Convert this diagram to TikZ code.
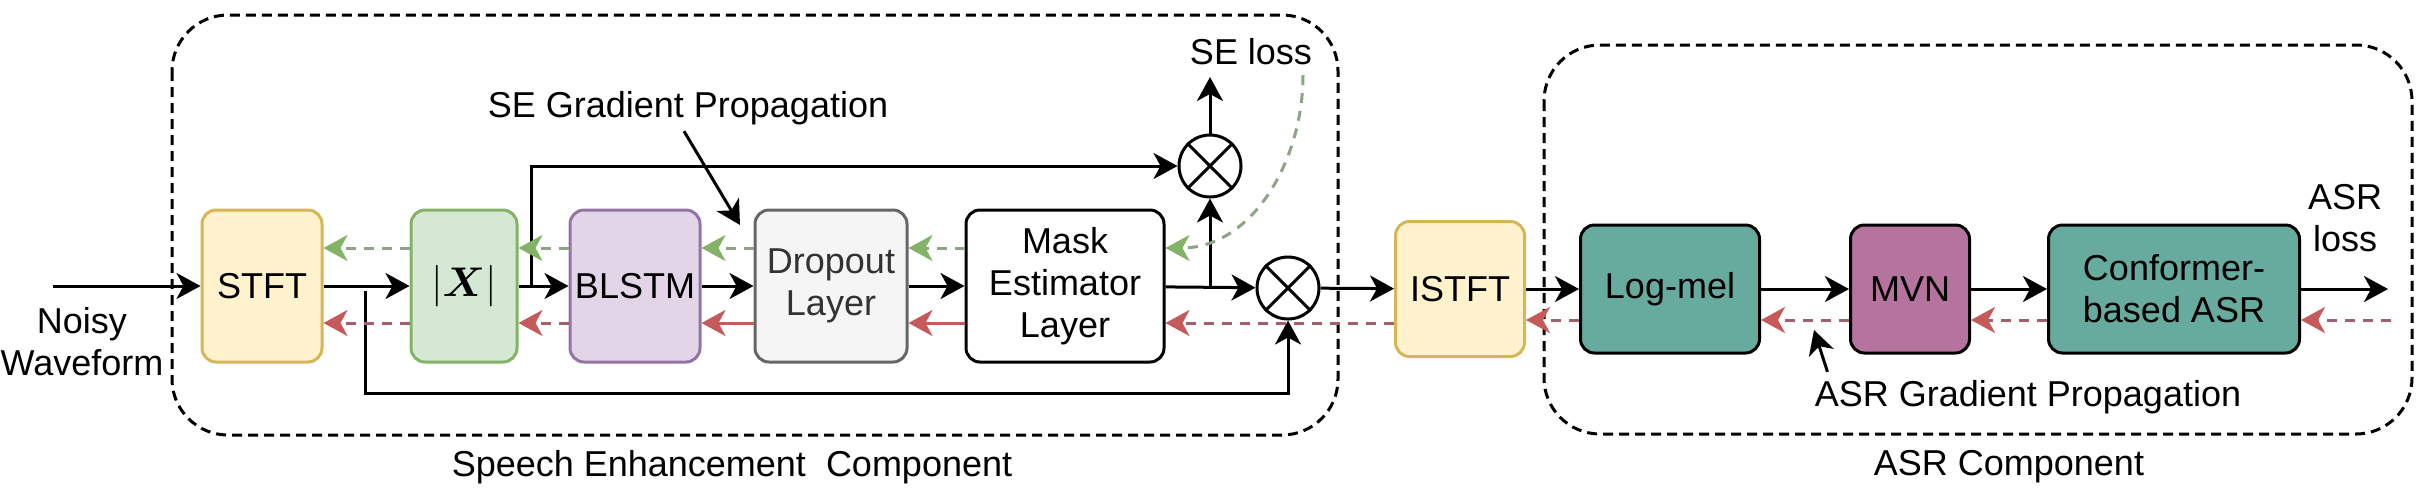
\documentclass[tikz,border=0pt]{standalone}
\usepackage{fontspec}
\setmainfont{Liberation Sans}
\usepackage{amsmath}
\usetikzlibrary{arrows.meta}
\definecolor{yfill}{HTML}{FFF2CC}\definecolor{ydraw}{HTML}{D6B656}
\definecolor{gfill}{HTML}{D5E8D4}\definecolor{gdraw}{HTML}{82B366}
\definecolor{pfill}{HTML}{E1D5E7}\definecolor{pdraw}{HTML}{9673A6}
\definecolor{sfill}{HTML}{F5F5F5}\definecolor{sdraw}{HTML}{666666}
\definecolor{teal}{HTML}{67AB9F}\definecolor{mauve}{HTML}{B5739D}
\definecolor{gline}{HTML}{8FA386}\definecolor{ghead}{HTML}{82B366}
\definecolor{rline}{HTML}{A3606C}\definecolor{rhead}{HTML}{C65A5A}

\begin{document}
\begin{tikzpicture}[x=0.5pt,y=-0.5pt,
  >={Stealth[length=12pt,width=13pt,inset=3.5pt]},
  every node/.style={font=\fontsize{18}{21}\selectfont},
  blk/.style={draw,rounded corners=7pt,line width=1.5pt,align=center,inner sep=0pt},
  ybox/.style={blk,fill=yfill,draw=ydraw},
  gbox/.style={blk,fill=gfill,draw=gdraw},
  pbox/.style={blk,fill=pfill,draw=pdraw},
  sbox/.style={blk,fill=sfill,draw=sdraw,text=black!80},
  tbox/.style={blk,fill=teal,minimum height=64pt},
  mult/.style={circle,draw,line width=1.5pt,minimum size=31pt,inner sep=0pt},
  group/.style={draw,dash pattern=on 5pt off 3pt,line width=1.5pt,rounded corners=28pt},
  flow/.style={->,line width=1.5pt},
  gback/.style={line width=1.5pt,draw=gline,dash pattern=on 5pt off 4pt,
    -{Stealth[length=12pt,width=13pt,inset=3.5pt,color=ghead]}},
  rback/.style={line width=1.5pt,draw=rline,dash pattern=on 5pt off 4pt,
    -{Stealth[length=12pt,width=13pt,inset=3.5pt,color=rhead]}},
  rsolid/.style={line width=1.5pt,draw=rhead,
    -{Stealth[length=12pt,width=13pt,inset=3.5pt,color=rhead]}}]
\useasboundingbox (0,0) rectangle (2417,500);

% component frames
\draw[group] (172,15) rectangle (1338,435);
\draw[group] (1544,45) rectangle (2412,434);
\node (secomp) at (732,467) {Speech Enhancement\ \ Component};
\node (asrcomp) at (2009,467) {ASR Component};

% blocks
\node[ybox,minimum width=60pt,minimum height=76pt] (stft) at (262,286) {STFT};
\node[gbox,minimum width=53pt,minimum height=76pt] (mag) at (464,286) {\fontsize{20}{24}\selectfont$|\boldsymbol{X}|$};
\node[pbox,minimum width=65pt,minimum height=76pt] (blstm) at (635,286) {BLSTM};
\node[sbox,minimum width=76pt,minimum height=76pt] (drop) at (831,286) {Dropout\\Layer};
\node[blk,minimum width=99pt,minimum height=76pt] (mask) at (1065,286) {Mask\\Estimator\\Layer};
\node[mult] (multup) at (1210,166) {};
\node[mult] (multlo) at (1288,288) {};
\node[ybox,minimum width=64.5pt,minimum height=67.5pt] (istft) at (1460,289) {ISTFT};
\node[tbox,minimum width=89.5pt] (logmel) at (1670,289) {Log-mel};
\node[blk,fill=mauve,minimum width=59.5pt,minimum height=64pt] (mvn) at (1910,289) {MVN};
\node[tbox,minimum width=125.5pt] (conf) at (2174,289) {Conformer-\\based ASR};
\foreach \m in {multup,multlo}{
  \draw[line width=1.5pt] (\m.north west) -- (\m.south east) (\m.north east) -- (\m.south west);
}

% labels
\node[align=center] (noisy) at (82,342) {Noisy\\Waveform};
\node (seloss) at (1251,52) {SE loss};
\node[align=center] (asrloss) at (2345,218) {ASR\\loss};
\node[inner sep=0pt] (segrad) at (688,108) {SE Gradient Propagation};
\node[inner sep=0pt] (asrgrad) at (2028,397) {ASR Gradient Propagation};

\coordinate (wavein) at (53,286);
\coordinate (seout) at (1210,77);
\coordinate (asrout) at (2388,289);
\coordinate (tapup) at (531,286);
\coordinate (taplo) at (365,291);
\coordinate (botlo) at (365,393);
\coordinate (setip) at (740,225);
\coordinate (asrtip) at (1814,330);
\coordinate (gtop) at (1303,75);
\coordinate (asrin) at (2391,320);

% forward path
\draw[flow] (wavein) -- (stft);
\draw[flow] (stft) -- (mag);
\draw[flow] (mag) -- (blstm);
\draw[flow] (blstm) -- (drop);
\draw[flow] (drop) -- (mask);
\draw[flow] (mask) -- (multlo);
\draw[flow] (multup.south |- mask.east) -- (multup);
\draw[flow] (tapup) |- (multup);
\draw[flow] (taplo) -- (botlo) -| (multlo);
\draw[flow] (multup) -- (seout);
\draw[flow] (multlo) -- (istft);
\draw[flow] (istft) -- (logmel);
\draw[flow] (logmel) -- (mvn);
\draw[flow] (mvn) -- (conf);
\draw[flow] (conf) -- (asrout);

% SE gradient
\draw[gback] (gtop) to[out=-90,in=0] ([yshift=19pt]mask.east);
\draw[gback] ([yshift=19pt]mask.west) -- ([yshift=19pt]drop.east);
\draw[gback] ([yshift=19pt]drop.west) -- ([yshift=19pt]blstm.east);
\draw[gback] ([yshift=19pt]blstm.west) -- ([yshift=19pt]mag.east);
\draw[gback] ([yshift=19pt]mag.west) -- ([yshift=19pt]stft.east);

% ASR gradient
\coordinate (rmask) at ([yshift=-18.5pt]mask.east);
\draw[rback] (asrin) -- ([yshift=-15.5pt]conf.east);
\draw[rback] ([yshift=-15.5pt]conf.west) -- ([yshift=-15.5pt]mvn.east);
\draw[rback] ([yshift=-15.5pt]mvn.west) -- ([yshift=-15.5pt]logmel.east);
\draw[rback] ([yshift=-15.5pt]logmel.west) -- ([yshift=-15.5pt]istft.east);
\draw[rback] (rmask -| istft.west) -- (rmask);
\draw[rsolid] ([yshift=-18.5pt]mask.west) -- ([yshift=-18.5pt]drop.east);
\draw[rsolid] ([yshift=-18.5pt]drop.west) -- ([yshift=-18.5pt]blstm.east);
\draw[rback] ([yshift=-18.5pt]blstm.west) -- ([yshift=-18.5pt]mag.east);
\draw[rback] ([yshift=-18.5pt]mag.west) -- ([yshift=-18.5pt]stft.east);

% pointers to the gradient paths
\draw[flow] ([xshift=-2pt,yshift=-3pt]segrad.south) -- (setip);
\draw[flow] ([shift={(6.5pt,4pt)}]asrgrad.north west) -- (asrtip);
\end{tikzpicture}
\end{document}
